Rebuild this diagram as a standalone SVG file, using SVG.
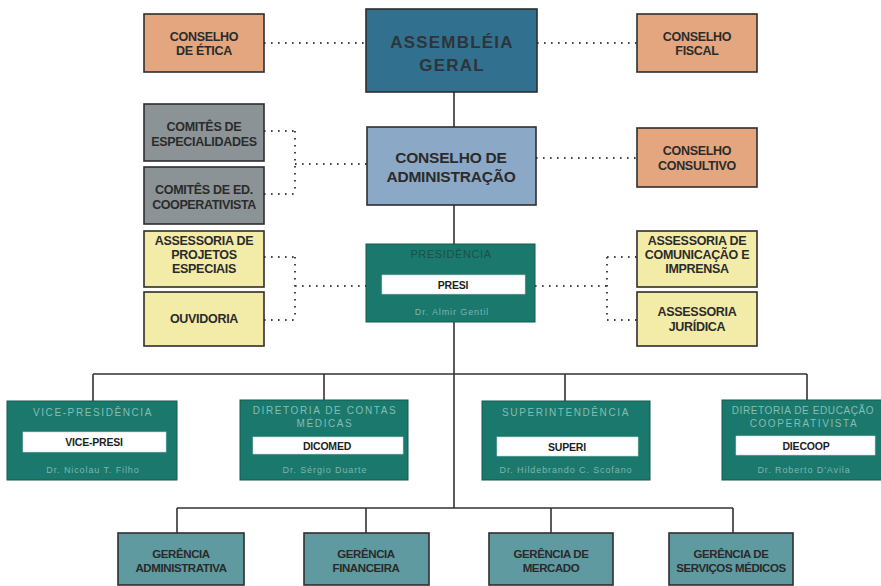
<svg xmlns="http://www.w3.org/2000/svg" width="881" height="586" viewBox="0 0 881 586">
<defs>
<style>
.bx{stroke:#2e2e2e;stroke-width:1.6}
.or{fill:#e4a67e}
.bl{fill:#31708f}
.lb{fill:#8ba8c6}
.gr{fill:#8b9396}
.ye{fill:#f3eba8}
.tl{fill:#1a786d;stroke:#14594f;stroke-width:1}
.gt{fill:#5e9aa0}
.bar{fill:#ffffff;stroke:#cfd8d6;stroke-width:0.6}
.t{font-family:"Liberation Sans",Arial,sans-serif;font-weight:bold;font-size:12.5px;fill:#2b2b2b;text-anchor:middle;letter-spacing:-0.3px}
.big{font-family:"Liberation Sans",Arial,sans-serif;font-weight:bold;font-size:17px;fill:#2e3438;text-anchor:middle;letter-spacing:1.2px}
.mid{font-family:"Liberation Sans",Arial,sans-serif;font-weight:bold;font-size:15.5px;fill:#2b2b2b;text-anchor:middle;letter-spacing:-0.2px}
.dt{font-family:"Liberation Sans",Arial,sans-serif;font-size:10px;fill:#86bdb3;text-anchor:middle;letter-spacing:1.6px}
.nm{font-family:"Liberation Sans",Arial,sans-serif;font-size:9px;fill:#7fb5ab;text-anchor:middle;letter-spacing:0.9px}
.bt{font-family:"Liberation Sans",Arial,sans-serif;font-weight:bold;font-size:10.5px;fill:#1e1e1e;text-anchor:middle;letter-spacing:-0.2px}
.gx{font-family:"Liberation Sans",Arial,sans-serif;font-weight:bold;font-size:11.5px;fill:#2a2a2a;text-anchor:middle;letter-spacing:-0.4px}
.sl{stroke:#333;stroke-width:1.6;fill:none}
.dl{stroke:#444;stroke-width:2;fill:none;stroke-dasharray:1.6 5.4}
</style>
</defs>
<rect width="881" height="586" fill="#ffffff"/>

<g id="connectors">
<path class="sl" d="M454 92V508M93 374H807M93 374V401M324 374V400M565 374V401M807 374V400M177 508H733M177 508V533M366 508V533M551 508V533M733 508V533"/>
<path class="dl" d="M264 43H366M537 43H637"/>
<path class="dl" d="M264 131H295M295 131V194M264 194H295M295 164H367"/>
<path class="dl" d="M536 158H637"/>
<path class="dl" d="M264 257H295M295 257V320M264 320H295M295 286H366"/>
<path class="dl" d="M535 286H607M607 257V320M607 257H637M607 320H637"/>
</g>

<g id="conselho-etica">
<rect class="bx or" x="144" y="14" width="120" height="58"/>
<text class="t" x="204" y="41">CONSELHO</text>
<text class="t" x="204" y="55">DE ÉTICA</text>
</g>
<g id="assembleia-geral">
<rect class="bx bl" x="366" y="9" width="171" height="83"/>
<text class="big" x="452" y="48">ASSEMBLÉIA</text>
<text class="big" x="452" y="71">GERAL</text>
</g>
<g id="conselho-fiscal">
<rect class="bx or" x="637" y="14" width="120" height="58"/>
<text class="t" x="697" y="41">CONSELHO</text>
<text class="t" x="697" y="55">FISCAL</text>
</g>

<g id="comites-especialidades">
<rect class="bx gr" x="144" y="104" width="120" height="57"/>
<text class="t" x="204" y="131">COMITÊS DE</text>
<text class="t" x="204" y="146">ESPECIALIDADES</text>
</g>
<g id="comites-ed-cooperativista">
<rect class="bx gr" x="144" y="167" width="120" height="57"/>
<text class="t" x="204" y="194">COMITÊS DE ED.</text>
<text class="t" x="204" y="209" style="letter-spacing:-0.4px">COOPERATIVISTA</text>
</g>
<g id="conselho-administracao">
<rect class="bx lb" x="367" y="127" width="169" height="78"/>
<text class="mid" x="451" y="163">CONSELHO DE</text>
<text class="mid" x="451" y="182">ADMINISTRAÇÃO</text>
</g>
<g id="conselho-consultivo">
<rect class="bx or" x="637" y="128" width="120" height="59"/>
<text class="t" x="697" y="155">CONSELHO</text>
<text class="t" x="697" y="170">CONSULTIVO</text>
</g>

<g id="assessoria-projetos">
<rect class="bx ye" x="144" y="231" width="120" height="56"/>
<text class="t" x="204" y="245">ASSESSORIA DE</text>
<text class="t" x="204" y="259">PROJETOS</text>
<text class="t" x="204" y="273">ESPECIAIS</text>
</g>
<g id="ouvidoria">
<rect class="bx ye" x="144" y="292" width="120" height="54"/>
<text class="t" x="204" y="323">OUVIDORIA</text>
</g>
<g id="presidencia">
<rect class="tl" x="366" y="244" width="169" height="78"/>
<text class="dt" x="451" y="258" style="fill:#1f4f49;font-size:11px;letter-spacing:0.6px">PRESIDÊNCIA</text>
<rect class="bar" x="382" y="275" width="143" height="19"/>
<text class="bt" x="453" y="289">PRESI</text>
<text class="nm" x="452" y="315">Dr. Almir Gentil</text>
</g>
<g id="assessoria-comunicacao">
<rect class="bx ye" x="637" y="231" width="120" height="56"/>
<text class="t" x="697" y="245">ASSESSORIA DE</text>
<text class="t" x="697" y="259">COMUNICAÇÃO E</text>
<text class="t" x="697" y="273">IMPRENSA</text>
</g>
<g id="assessoria-juridica">
<rect class="bx ye" x="637" y="292" width="120" height="54"/>
<text class="t" x="697" y="316">ASSESSORIA</text>
<text class="t" x="697" y="331">JURÍDICA</text>
</g>

<g id="vice-presidencia">
<rect class="tl" x="7" y="401" width="170" height="79"/>
<text class="dt" x="93" y="416">VICE-PRESIDÊNCIA</text>
<rect class="bar" x="23" y="432" width="143" height="20"/>
<text class="bt" x="94" y="446">VICE-PRESI</text>
<text class="nm" x="93" y="473">Dr. Nicolau T. Filho</text>
</g>
<g id="dicomed">
<rect class="tl" x="240" y="400" width="168" height="80"/>
<text class="dt" x="325" y="414">DIRETORIA DE CONTAS</text>
<text class="dt" x="325" y="427">MÉDICAS</text>
<rect class="bar" x="253" y="437" width="150" height="17"/>
<text class="bt" x="327" y="450">DICOMED</text>
<text class="nm" x="325" y="473">Dr. Sérgio Duarte</text>
</g>
<g id="superi">
<rect class="tl" x="482" y="401" width="168" height="79"/>
<text class="dt" x="566" y="416">SUPERINTENDÊNCIA</text>
<rect class="bar" x="497" y="437" width="141" height="19"/>
<text class="bt" x="567" y="451">SUPERI</text>
<text class="nm" x="566" y="473">Dr. Hildebrando C. Scofano</text>
</g>
<g id="diecoop">
<rect class="tl" x="722" y="400" width="166" height="80"/>
<text class="dt" x="803" y="414" style="letter-spacing:0.6px">DIRETORIA DE EDUCAÇÃO</text>
<text class="dt" x="804" y="427">COOPERATIVISTA</text>
<rect class="bar" x="736" y="436" width="139" height="19"/>
<text class="bt" x="806" y="450">DIECOOP</text>
<text class="nm" x="804" y="473">Dr. Roberto D'Avila</text>
</g>

<g id="gerencia-administrativa">
<rect class="bx gt" x="118" y="533" width="126" height="52"/>
<text class="gx" x="181" y="558">GERÊNCIA</text>
<text class="gx" x="181" y="572">ADMINISTRATIVA</text>
</g>
<g id="gerencia-financeira">
<rect class="bx gt" x="304" y="533" width="125" height="52"/>
<text class="gx" x="366" y="558">GERÊNCIA</text>
<text class="gx" x="366" y="572">FINANCEIRA</text>
</g>
<g id="gerencia-mercado">
<rect class="bx gt" x="489" y="533" width="124" height="52"/>
<text class="gx" x="551" y="558">GERÊNCIA DE</text>
<text class="gx" x="551" y="572">MERCADO</text>
</g>
<g id="gerencia-servicos-medicos">
<rect class="bx gt" x="669" y="533" width="124" height="52"/>
<text class="gx" x="731" y="558">GERÊNCIA DE</text>
<text class="gx" x="731" y="572">SERVIÇOS MÉDICOS</text>
</g>
</svg>
